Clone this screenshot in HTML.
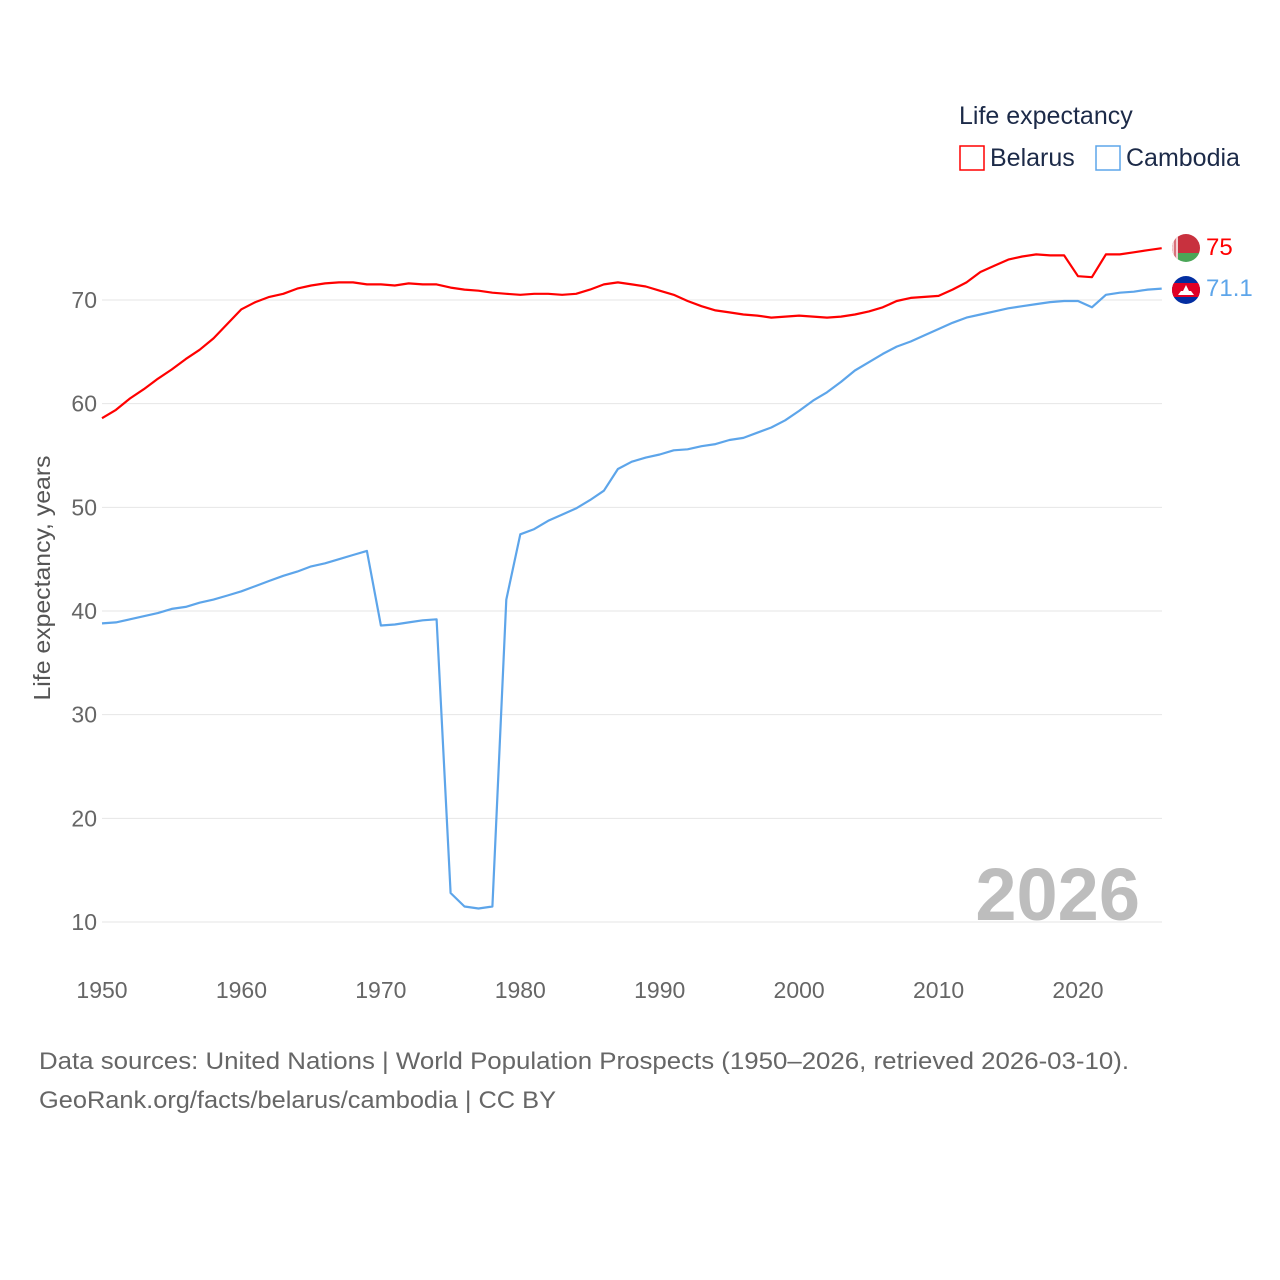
<!DOCTYPE html>
<html><head><meta charset="utf-8"><style>
body{margin:0;background:#fff;}
svg{display:block;font-family:"Liberation Sans",sans-serif;}
</style></head><body>
<svg id="chart" width="1280" height="1280" viewBox="0 0 1280 1280">
<g id="grid"></g>
<g id="yticks"></g>
<g id="xticks"></g>
<text x="50" y="578" transform="rotate(-90 50 578)" text-anchor="middle" font-size="23" fill="#555" textLength="245" lengthAdjust="spacingAndGlyphs">Life expectancy, years</text>
<text x="1140" y="920" text-anchor="end" font-size="74" font-weight="bold" fill="#bdbdbd">2026</text>
<g>
<text x="959" y="124" font-size="25" fill="#1c2a48">Life expectancy</text>
<g>
<rect x="960" y="146" width="24" height="24" fill="none" stroke="#f00" stroke-width="1.5"/>
<text x="990" y="166" font-size="25" fill="#1c2a48">Belarus</text></g>
<g>
<rect x="1096" y="146" width="24" height="24" fill="none" stroke="#5da5ea" stroke-width="1.5"/>
<text x="1126" y="166" font-size="25" fill="#1c2a48">Cambodia</text></g>
</g>
<g id="series"></g>
<defs>
<clipPath id="c1"><circle cx="1186" cy="248" r="14"/></clipPath>
<clipPath id="c2"><circle cx="1186" cy="290" r="14"/></clipPath>
</defs>
<g clip-path="url(#c1)">
<rect x="1172" y="234" width="28" height="19" fill="#c8313e"/>
<rect x="1172" y="253" width="28" height="10" fill="#4aa657"/>
<rect x="1172" y="234" width="6" height="28" fill="#f3d0d3"/>
<rect x="1174" y="236" width="2" height="24" fill="#d9717a"/>
</g>
<g clip-path="url(#c2)">
<rect x="1172" y="276" width="28" height="28" fill="#032ea1"/>
<rect x="1172" y="283" width="28" height="14" fill="#e00025"/>
<polygon points="1178,295 1194,295 1191,291 1189,291 1186,285 1183,291 1181,291" fill="#fff"/>
</g>
<text x="1206" y="255" font-size="24" fill="#f00">75</text>
<text x="1206" y="296" font-size="24" fill="#5da5ea">71.1</text>
<text x="39" y="1069" font-size="24" fill="#666" textLength="1090" lengthAdjust="spacingAndGlyphs">Data sources: United Nations | World Population Prospects (1950–2026, retrieved 2026-03-10).</text>
<text x="39" y="1108" font-size="24" fill="#666" textLength="517" lengthAdjust="spacingAndGlyphs">GeoRank.org/facts/belarus/cambodia | CC BY</text>
</svg>
<script>
const years = [];
for (let y = 1950; y <= 2026; y++) years.push(y);
const belarus = [58.6,59.4,60.5,61.4,62.4,63.3,64.3,65.2,66.3,67.7,69.1,69.8,70.3,70.6,71.1,71.4,71.6,71.7,71.7,71.5,71.5,71.4,71.6,71.5,71.5,71.2,71.0,70.9,70.7,70.6,70.5,70.6,70.6,70.5,70.6,71.0,71.5,71.7,71.5,71.3,70.9,70.5,69.9,69.4,69.0,68.8,68.6,68.5,68.3,68.4,68.5,68.4,68.3,68.4,68.6,68.9,69.3,69.9,70.2,70.3,70.4,71.0,71.7,72.7,73.3,73.9,74.2,74.4,74.3,74.3,72.3,72.2,74.4,74.4,74.6,74.8,75.0];
const cambodia = [38.8,38.9,39.2,39.5,39.8,40.2,40.4,40.8,41.1,41.5,41.9,42.4,42.9,43.4,43.8,44.3,44.6,45.0,45.4,45.8,38.6,38.7,38.9,39.1,39.2,12.8,11.5,11.3,11.5,41.1,47.4,47.9,48.7,49.3,49.9,50.7,51.6,53.7,54.4,54.8,55.1,55.5,55.6,55.9,56.1,56.5,56.7,57.2,57.7,58.4,59.3,60.3,61.1,62.1,63.2,64.0,64.8,65.5,66.0,66.6,67.2,67.8,68.3,68.6,68.9,69.2,69.4,69.6,69.8,69.9,69.9,69.3,70.5,70.7,70.8,71.0,71.1];
const yTicks = [10,20,30,40,50,60,70];
const xTicks = [1950,1960,1970,1980,1990,2000,2010,2020];

const NS = "http://www.w3.org/2000/svg";
const xs = v => 102 + (v - 1950) * (976 / 70);
const ys = v => 300 + (70 - v) * (622 / 60);
function mk(tag, attrs, parent) {
  const e = document.createElementNS(NS, tag);
  for (const k in attrs) e.setAttribute(k, attrs[k]);
  parent.appendChild(e);
  return e;
}
const grid = document.getElementById('grid'), yt = document.getElementById('yticks'), xt = document.getElementById('xticks'), ser = document.getElementById('series');
yTicks.forEach(t => {
  const l = mk('line', {x1: 102, x2: 1162, y1: ys(t), y2: ys(t), stroke: '#e6e6e6', 'stroke-width': 1}, grid);
  
  
  const tx = mk('text', {x: 97, y: ys(t) + 8, 'text-anchor': 'end', 'font-size': 23, fill: '#666'}, yt);
  tx.textContent = t;
  
  
});
xTicks.forEach(t => {
  const tx = mk('text', {x: xs(t), y: 998, 'text-anchor': 'middle', 'font-size': 23, fill: '#666'}, xt);
  tx.textContent = t;
  
  
});
function line(data, color, name) {
  const d = data.map((v, i) => (i ? 'L' : 'M') + xs(years[i]).toFixed(1) + ',' + ys(v).toFixed(1)).join('');
  const p = mk('path', {d: d, fill: 'none', stroke: color, 'stroke-width': 2.2, 'stroke-linejoin': 'round'}, ser);
  
  
}
line(belarus, '#ff0000', 'belarus-line');
line(cambodia, '#5da5ea', 'cambodia-line');
</script>
</body></html>
